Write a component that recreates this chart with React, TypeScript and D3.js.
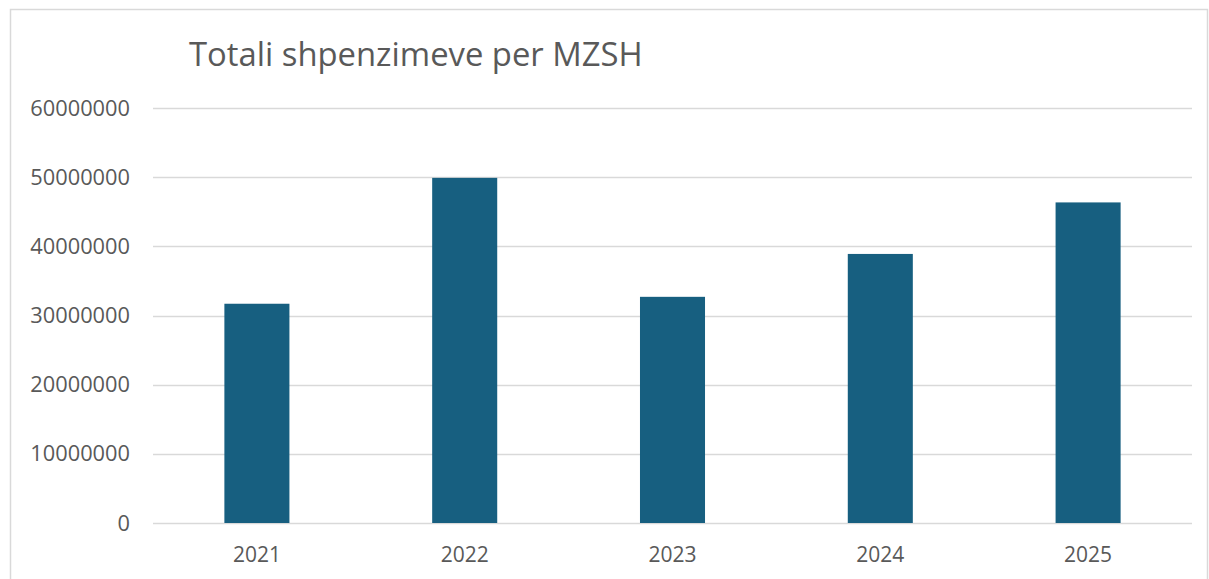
import { useEffect, useRef } from "react";
import * as d3 from "d3";

const years = ["2021", "2022", "2023", "2024", "2025"];
const totals = [31700000, 49900000, 32700000, 38900000, 46350000];
const yTicks = [0, 10000000, 20000000, 30000000, 40000000, 50000000, 60000000];
const title = "Totali shpenzimeve per MZSH";

const W = 1209;
const H = 579;
const FONT = "'Open Sans', 'Liberation Sans', sans-serif";

const App = () => {
  const svgRef = useRef<SVGSVGElement | null>(null);

  useEffect(() => {
    if (!svgRef.current) return;
    const svg = d3.select(svgRef.current);
    svg.selectAll("*").remove();

    const margin = { top: 108, right: 17, bottom: 56, left: 153 };

    const x = d3
      .scaleBand<string>()
      .domain(years)
      .range([margin.left, W - margin.right])
      .paddingInner(0.687)
      .paddingOuter(0.3435);

    const y = d3
      .scaleLinear()
      .domain([0, 60000000])
      .range([H - margin.bottom, margin.top]);

    // chart frame
    svg
      .append("rect")
      .attr("x", 10.5)
      .attr("y", 9.5)
      .attr("width", 1197)
      .attr("height", 600)
      .attr("fill", "#fff")
      .attr("stroke", "#d9d9d9")
      .attr("stroke-width", 1.5);

    svg
      .append("text")
      .attr("x", 189)
      .attr("y", 66)
      .attr("font-family", FONT)
      .attr("font-size", 32.8)
      .attr("fill", "#595959")
      .text(title);

    // gridlines
    svg
      .append("g")
      .selectAll("line")
      .data(yTicks)
      .join("line")
      .attr("x1", margin.left)
      .attr("x2", W - margin.right)
      .attr("y1", (d) => Math.round(y(d)) + 0.5)
      .attr("y2", (d) => Math.round(y(d)) + 0.5)
      .attr("stroke", "#d9d9d9")
      .attr("stroke-width", 1.5);

    svg
      .append("g")
      .selectAll("rect")
      .data(totals)
      .join("rect")
      .attr("x", (_, i) => x(years[i]) as number)
      .attr("y", (d) => y(d))
      .attr("width", x.bandwidth())
      .attr("height", (d) => y(0) - y(d))
      .attr("fill", "#175f80");

    // y labels
    svg
      .append("g")
      .selectAll("text")
      .data(yTicks)
      .join("text")
      .attr("x", 130)
      .attr("y", (d) => y(d))
      .attr("dy", "0.35em")
      .attr("text-anchor", "end")
      .attr("font-family", FONT)
      .attr("font-size", 21.8)
      .attr("fill", "#595959")
      .text((d) => String(d));

    // x labels
    svg
      .append("g")
      .selectAll("text")
      .data(years)
      .join("text")
      .attr("x", (d) => (x(d) as number) + x.bandwidth() / 2)
      .attr("y", 562)
      .attr("text-anchor", "middle")
      .attr("font-family", FONT)
      .attr("font-size", 21)
      .attr("fill", "#595959")
      .text((d) => d);
  }, []);

  return (
    <svg
      ref={svgRef}
      width={W}
      height={H}
      style={{ position: "absolute", left: 0, top: 0, background: "#fff" }}
    />
  );
};

export default App;
